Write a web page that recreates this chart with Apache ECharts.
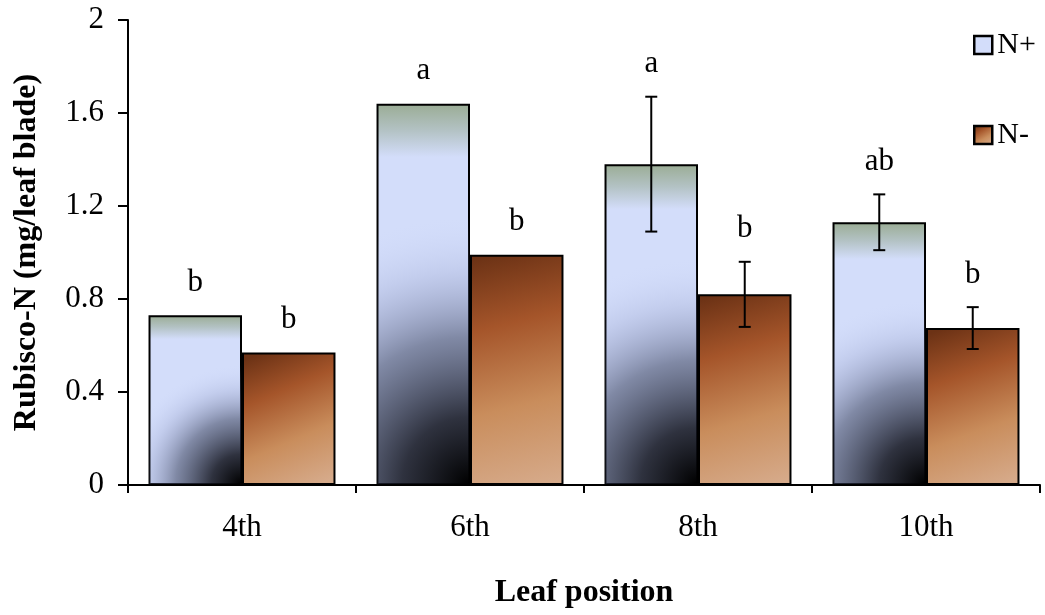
<!DOCTYPE html>
<html>
<head>
<meta charset="utf-8">
<script src="https://cdn.jsdelivr.net/npm/echarts@6/dist/echarts.min.js"></script>
<style>
  html, body { margin: 0; padding: 0; background: #fff; }
  #chart { width: 1045px; height: 615px; }
</style>
</head>
<body>
<div id="chart"></div>
<script>
// values
const categories = ['4th', '6th', '8th', '10th']
const nPlus = [0.73, 1.64, 1.38, 1.13]
const nMinus = [0.57, 0.99, 0.82, 0.675]
const nPlusErr = [0, 0, 0.29, 0.12]
const nMinusErr = [0, 0, 0.14, 0.09]
const nPlusLetters = ['b', 'a', 'a', 'ab']
const nMinusLetters = ['b', 'b', 'b', 'b']
const yTicks = { min: 0, max: 2, interval: 0.4 }

const FONT = 'Liberation Serif'
const GAP = 0.18 // barCategoryGap as fraction

const chart = echarts.init(document.getElementById('chart'))

const plusFill = new echarts.graphic.LinearGradient(0, 0, 0, 1, [
  { offset: 0, color: '#9aac94' },
  { offset: 0.07, color: '#b3c2c4' },
  { offset: 0.14, color: '#d3ddfa' },
  { offset: 1, color: '#d3ddfa' }
])
const minusFill = new echarts.graphic.LinearGradient(0.2, 0, 0.8, 1, [
  { offset: 0, color: '#6c3215' },
  { offset: 0.3, color: '#a5552a' },
  { offset: 0.65, color: '#c98d5c' },
  { offset: 1, color: '#d6aa8a' }
])

function barX(api, idx, which) {
  const c = api.coord([idx, 0])
  const band = api.size([1, 0])[0]
  const w = band * (1 - GAP) / 2
  return { cx: c[0] + (which === 0 ? -w / 2 : w / 2), w: w, y0: c[1] }
}

// dark corner of the N+ bars, drawn over the bar fill
function renderShade(params, api) {
  const idx = api.value(0)
  const b = barX(api, idx, 0)
  const top = api.coord([idx, api.value(1)])[1]
  const h = b.y0 - top
  const inset = 1
  const w = b.w - inset * 2
  const hh = h - inset * 2
  const r = (0.7 * h) / Math.min(w, hh)
  return {
    type: 'rect',
    shape: { x: b.cx - b.w / 2 + inset, y: top + inset, width: w, height: hh },
    style: {
      fill: new echarts.graphic.RadialGradient(1, 1, r, [
        { offset: 0, color: 'rgba(0,0,0,1)' },
        { offset: 0.25, color: 'rgba(18,20,30,0.85)' },
        { offset: 0.55, color: 'rgba(60,68,95,0.55)' },
        { offset: 0.8, color: 'rgba(130,140,185,0.2)' },
        { offset: 1, color: 'rgba(200,210,250,0)' }
      ])
    },
    silent: true
  }
}

function makeErr(which, vals, errs, letters) {
  return function (params, api) {
    const idx = api.value(0)
    const b = barX(api, idx, which)
    const v = vals[idx]
    const e = errs[idx]
    const hi = api.coord([idx, v + e])[1]
    const lo = api.coord([idx, v - e])[1]
    const children = []
    if (e > 0) {
      const cap = 6
      const ls = { stroke: '#000', lineWidth: 2 }
      children.push(
        { type: 'line', shape: { x1: b.cx, y1: hi, x2: b.cx, y2: lo }, style: ls },
        { type: 'line', shape: { x1: b.cx - cap, y1: hi, x2: b.cx + cap, y2: hi }, style: ls },
        { type: 'line', shape: { x1: b.cx - cap, y1: lo, x2: b.cx + cap, y2: lo }, style: ls }
      )
    }
    children.push({
      type: 'text',
      style: {
        x: b.cx, y: hi - 17, text: letters[idx],
        fill: '#000', font: '31px "' + FONT + '"',
        textAlign: 'center', textVerticalAlign: 'bottom'
      }
    })
    return { type: 'group', children: children }
  }
}

chart.setOption({
  animation: false,
  backgroundColor: '#fff',
  textStyle: { fontFamily: FONT, color: '#000' },
  grid: { left: 128, right: 5, top: 20, bottom: 130 },
  legend: {
    data: ['N+', 'N-'],
    orient: 'vertical',
    left: 973,
    top: 30,
    padding: 0,
    itemGap: 60,
    itemWidth: 18,
    itemHeight: 18,
    icon: 'rect',
    itemStyle: { borderColor: '#000', borderWidth: 2.5 },
    textStyle: { fontFamily: FONT, fontSize: 30, color: '#000', padding: [0, 0, 0, 0] }
  },
  xAxis: {
    type: 'category',
    data: categories,
    name: 'Leaf position',
    nameLocation: 'middle',
    nameGap: 92,
    nameTextStyle: { fontFamily: FONT, fontSize: 32, fontWeight: 'bold', color: '#000' },
    axisLine: { lineStyle: { color: '#000', width: 2 } },
    axisTick: { show: true, length: 8, lineStyle: { color: '#000', width: 2 } },
    axisLabel: { fontFamily: FONT, fontSize: 31, color: '#000', margin: 27 },
    splitLine: { show: false }
  },
  yAxis: {
    type: 'value',
    min: yTicks.min,
    max: yTicks.max,
    interval: yTicks.interval,
    name: 'Rubisco-N (mg/leaf blade)',
    nameLocation: 'middle',
    nameGap: 85,
    nameTextStyle: { fontFamily: FONT, fontSize: 32, fontWeight: 'bold', color: '#000' },
    axisLine: { show: true, lineStyle: { color: '#000', width: 2 } },
    axisTick: { show: true, length: 10, lineStyle: { color: '#000', width: 2 } },
    axisLabel: { fontFamily: FONT, fontSize: 31, color: '#000', margin: 24 },
    splitLine: { show: false }
  },
  series: [
    {
      name: 'N+', type: 'bar', data: nPlus,
      barGap: 0, barCategoryGap: (GAP * 100) + '%',
      itemStyle: { color: plusFill, borderColor: '#000', borderWidth: 2 },
      z: 2
    },
    {
      name: 'N-', type: 'bar', data: nMinus,
      barGap: 0, barCategoryGap: (GAP * 100) + '%',
      itemStyle: { color: minusFill, borderColor: '#000', borderWidth: 2 },
      z: 2
    },
    {
      type: 'custom', renderItem: renderShade,
      data: nPlus.map((v, i) => [i, v]), z: 3, silent: true
    },
    {
      type: 'custom', renderItem: makeErr(0, nPlus, nPlusErr, nPlusLetters),
      data: nPlus.map((v, i) => [i, v]), z: 4, silent: true
    },
    {
      type: 'custom', renderItem: makeErr(1, nMinus, nMinusErr, nMinusLetters),
      data: nMinus.map((v, i) => [i, v]), z: 4, silent: true
    }
  ]
})
</script>
</body>
</html>
